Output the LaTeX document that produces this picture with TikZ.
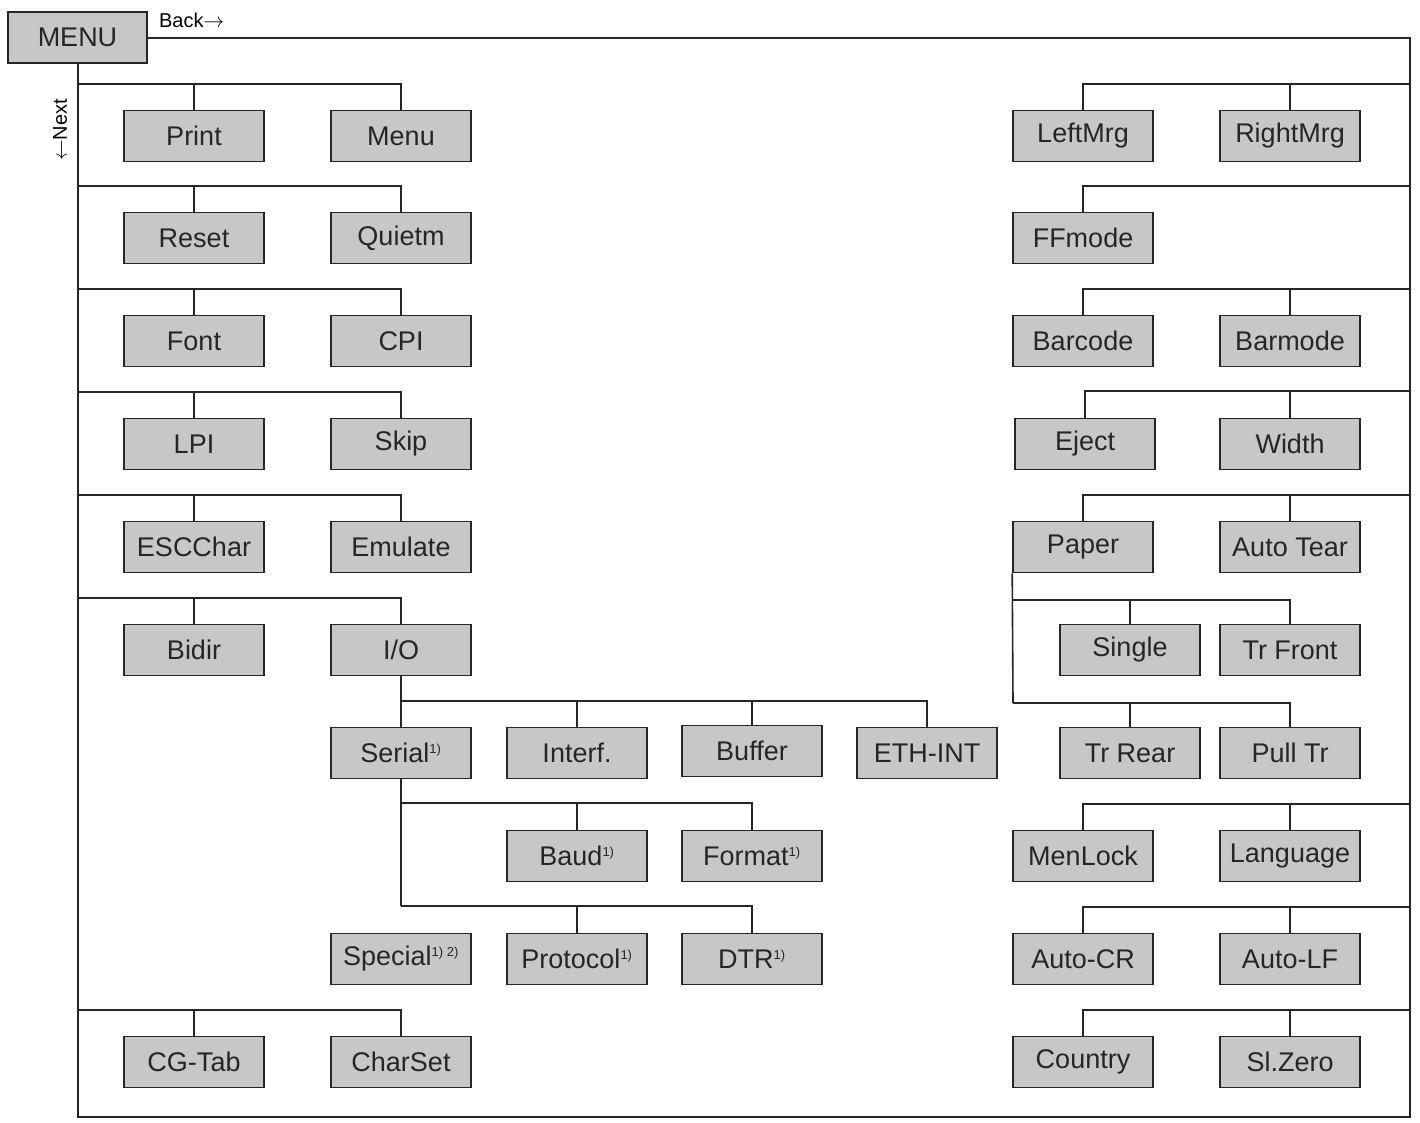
\documentclass[tikz,border=0pt]{standalone}
\usepackage{fontspec}
\setmainfont{Liberation Sans}
\begin{document}
\begin{tikzpicture}[x=1pt,y=-1pt,line width=1.6pt,
 bx/.style={draw=black!85,fill=black!22,minimum width=140pt,minimum height=51pt,inner sep=0pt,font=\fontsize{27}{30}\selectfont,text=black!85},
 ln/.style={draw=black!85}]
\useasboundingbox (0,0) rectangle (1420,1123);
\newcommand{\sq}[1]{\textsuperscript{\fontsize{13}{14}\selectfont #1}}
\node[bx,minimum width=139pt] (menu) at (77.5,37.5) {MENU};
\node[anchor=west,font=\fontsize{20}{22}\selectfont] (back) at (155,20) {Back$\rightarrow$};
\node[rotate=90,font=\fontsize{20}{22}\selectfont] (next) at (60,130) {$\leftarrow$Next};
\coordinate (bl) at (78,1117);
\coordinate (br) at (1410,1117);
\coordinate (tr) at (1410,38);
\draw[ln] (menu.south -| bl) -- (bl) -- (br) -- (tr) -- (menu.east |- tr);
% left column
\foreach \na/\ta/\nb/\tb/\y in {print/Print/menu2/Menu/136, reset/Reset/quiet/Quietm/238, font/Font/cpi/CPI/341, lpi/LPI/skip/Skip/444, esc/ESCChar/emu/Emulate/547, bidir/Bidir/io/{I/O}/650, cg/CG-Tab/cs/CharSet/1062}{
 \node[bx] (\na) at (194,\y) {\ta};
 \node[bx] (\nb) at (401,\y) {\tb};
 \draw[ln] (78,\y-52) -| (\nb.north);
 \draw[ln] (\na.north) -- ++(0,-27);
}
% I/O subtree
\node[bx] (serial) at (401,753) {Serial\sq{1)}};
\node[bx] (interf) at (577,753) {Interf.};
\node[bx] (buffer) at (752,751) {Buffer};
\node[bx] (eth) at (927,753) {ETH-INT};
\draw[ln] (io.south) -- (serial.north);
\draw[ln] (401,701) -| (eth.north);
\draw[ln] (interf.north) -- ++(0,-26);
\draw[ln] (buffer.north) -- ++(0,-24);
\node[bx] (baud) at (577,856) {Baud\sq{1)}};
\node[bx] (format) at (752,856) {Format\sq{1)}};
\node[bx] (special) at (401,959) {Special\sq{1) 2)}};
\node[bx] (proto) at (577,959) {Protocol\sq{1)}};
\node[bx] (dtr) at (752,959) {DTR\sq{1)}};
\draw[ln] (serial.south) -- (401,906);
\draw[ln] (401,803) -| (format.north);
\draw[ln] (baud.north) -- ++(0,-27);
\draw[ln] (401,906) -| (dtr.north);
\draw[ln] (proto.north) -- ++(0,-27);
% right column
\foreach \na/\ta/\nb/\tb/\y in {lm/LeftMrg/rm/RightMrg/136, bc/Barcode/bm/Barmode/341, paper/Paper/at/Auto Tear/547, ml/MenLock/lang/Language/856, acr/Auto-CR/alf/Auto-LF/959, ctry/Country/sz/Sl.Zero/1062}{
 \node[bx] (\na) at (1083,\y) {\ta};
 \node[bx] (\nb) at (1290,\y) {\tb};
 \draw[ln] (1410,\y-52) -| (\na.north);
 \draw[ln] (\nb.north) -- ++(0,-27);
}
\node[bx] (ff) at (1083,238) {FFmode};
\draw[ln] (1410,186) -| (ff.north);
\node[bx] (eject) at (1085,444) {Eject};
\node[bx] (width) at (1290,444) {Width};
\draw[ln] (1410,391) -| (eject.north);
\draw[ln] (width.north) -- ++(0,-28);
\node[bx] (single) at (1130,650) {Single};
\node[bx] (trf) at (1290,650) {Tr Front};
\node[bx] (trr) at (1130,753) {Tr Rear};
\node[bx] (pull) at (1290,753) {Pull Tr};
\draw[ln] (paper.south west) -- (1013,703);
\draw[ln] (1013,600) -| (trf.north);
\draw[ln] (single.north) -- ++(0,-25);
\draw[ln] (1013,703) -| (pull.north);
\draw[ln] (trr.north) -- ++(0,-25);
\end{tikzpicture}
\end{document}
